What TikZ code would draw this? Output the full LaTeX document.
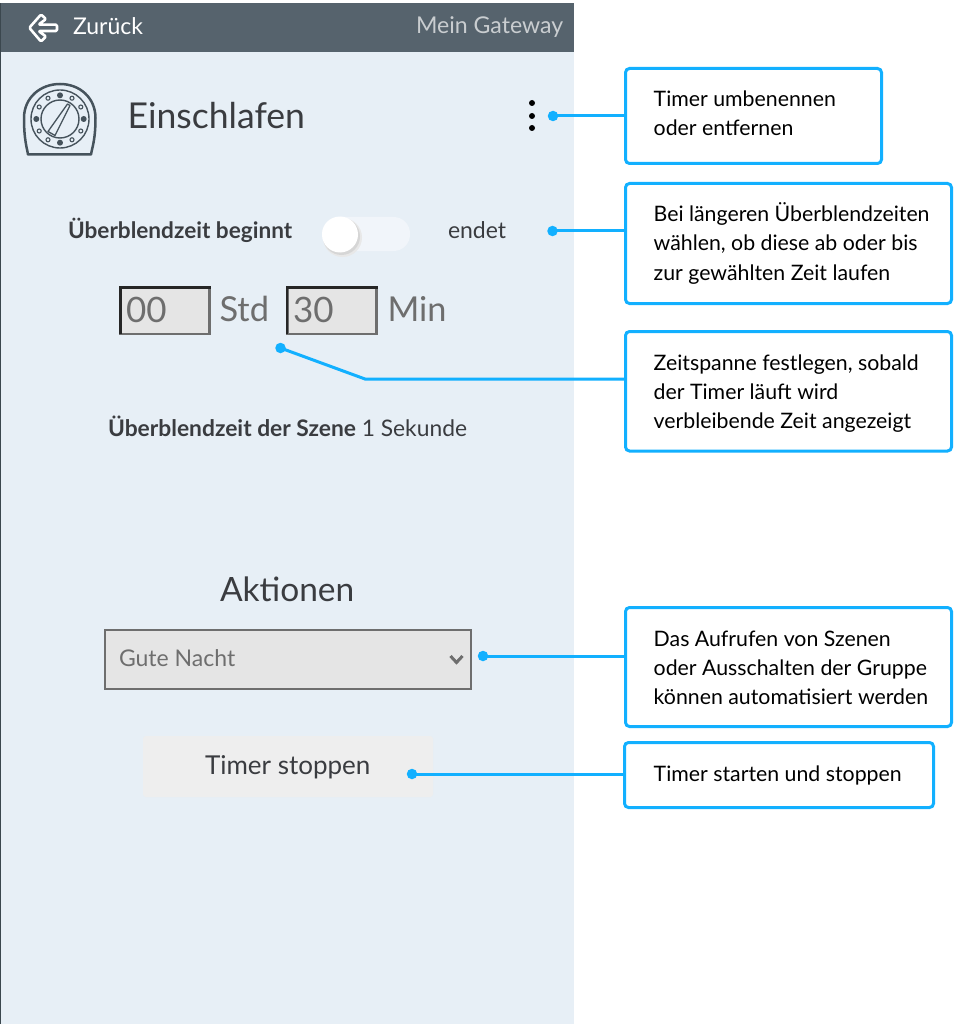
\documentclass[tikz,border=0pt]{standalone}
\usepackage{fontspec}
\usetikzlibrary{calc}
\setmainfont{Lato}
\definecolor{panel}{HTML}{E7EFF6}
\definecolor{head}{HTML}{56636D}
\definecolor{blu}{HTML}{12B0FF}
\definecolor{ink}{HTML}{3A3C40}
\definecolor{iconc}{HTML}{46535C}
\definecolor{gr}{HTML}{6E6E6E}
\definecolor{fieldf}{HTML}{E5E5E5}
\definecolor{btn}{HTML}{EEEEEE}
\tikzset{
 x=1pt,y=-1pt,
 txt/.style={anchor=base west,inner sep=0pt,outer sep=0pt},
 callout/.style={draw=blu,line width=3pt,rounded corners=4pt,fill=white,anchor=north west,inner sep=0pt},
 note/.style={txt,font=\fontsize{21.3}{21.3}\selectfont,text=black},
 wire/.style={draw=blu,line width=3pt},
 tipdot/.style={circle,fill=blu,inner sep=0pt,minimum size=10.5pt},
 field/.style={draw=gr,fill=fieldf,line width=2.5pt,anchor=north west,inner sep=0pt},
 tickdot/.style={circle,fill=iconc,inner sep=0pt},
}
\begin{document}
\begin{tikzpicture}
\useasboundingbox (0,0) rectangle (954,1024);
\fill[white] (0,0) rectangle (954,1024);
\fill[panel] (0,3) rectangle (574,1024);
\fill[head] (0,3) rectangle (574,52);
\fill[iconc!85!black] (0,3) rectangle (1,1024);
% back arrow
\draw[white,line width=2.6pt,line join=round,rounded corners=1.2pt] (29.3,27.8) -- (41,14.5) -- (46,19) -- (38.5,24.7) -- (57,24.7) -- (57,31) -- (38.5,31) -- (46,36.5) -- (41,41.5) -- cycle;
\node[txt,text=white,font=\fontsize{23}{23}\selectfont] (zurueck) at (73,35) {Zurück};
\node[txt,text=white!68!head,font=\fontsize{23.1}{23.1}\selectfont] (gateway) at (416,34) {Mein Gateway};
% timer icon
\draw[iconc,line width=2.5pt,line join=round] (28,154.5) .. controls (27,148) and (24,140) .. (24,118) .. controls (24,98) and (40,84) .. (60,84) .. controls (80,84) and (95.5,98) .. (95.5,118) .. controls (95.5,140) and (92,148) .. (91,154.5) -- cycle;
\draw[iconc,line width=1.4pt] (60,119) circle (29);
\draw[iconc,line width=1.4pt] (60,119) circle (19);
\foreach \a in {0,90,180,270}{\node[tickdot,minimum size=6pt] at ($(60,119)+(\a:23.7)$) {};}
\foreach \a in {30,60,120,150,210,240,300,330}{\draw[iconc,line width=1.1pt] ($(60,119)+(\a:24)$) circle (2);}
\draw[iconc,line width=1.3pt,line join=round] (67.5,104) -- (70,105.5) -- (55,135.5) -- (48,131.5) -- cycle;
\node[txt,text=ink,font=\fontsize{35.6}{35.6}\selectfont] (title) at (127.5,128.5) {Einschlafen};
\foreach \yy in {103,116,128}{\node[circle,fill=black,inner sep=0pt,minimum size=6pt] at (532,\yy) {};}
% switch row
\node[txt,text=ink,font=\fontsize{22.6}{22.6}\selectfont\bfseries] (begin) at (68,238) {Überblendzeit beginnt};
\fill[white!40!panel,rounded corners=16.5pt] (322,217) rectangle (410,251);
\fill[black!9] (342.5,237.5) circle (19.5);
\fill[black!16] (341.5,236.5) circle (18.5);
\fill[white] (340,234.5) circle (18);
\node[txt,text=ink,font=\fontsize{23}{23}\selectfont] (endet) at (448,238) {endet};
% fields
\node[field,minimum width=89pt,minimum height=46.5pt] (h) at (119.3,286) {};
\draw[black!85,line width=2.5pt] (120.5,334) -- (120.5,287.25) -- (211,287.25);
\node[txt,text=gr,font=\fontsize{35}{35}\selectfont] (h0) at (126,322) {00};
\node[txt,text=gr,font=\fontsize{34.4}{34.4}\selectfont] (std) at (219.5,321) {Std};
\node[field,minimum width=89pt,minimum height=46.5pt] (m) at (286,286) {};
\draw[black!85,line width=2.5pt] (287.2,334) -- (287.2,287.25) -- (377.7,287.25);
\node[txt,text=gr,font=\fontsize{35}{35}\selectfont] (m0) at (293,322) {30};
\node[txt,text=gr,font=\fontsize{34.3}{34.3}\selectfont] (minu) at (387.5,321) {Min};
% scene time
\node[txt,text=ink,font=\fontsize{22.8}{22.8}\selectfont] (scene) at (108,436) {\textbf{Überblendzeit der Szene} 1 Sekunde};
% actions
\node[txt,text=ink,font=\fontsize{33.5}{33.5}\selectfont] (akt) at (220,601) {Aktionen};
\node[draw=gr,fill=fieldf,line width=2pt,anchor=north west,inner sep=0pt,minimum width=365.7pt,minimum height=59pt] (sel) at (104,629) {};
\node[txt,text=gr,font=\fontsize{23}{23}\selectfont] (gute) at (119,666) {Gute Nacht};
\draw[gr,line width=3pt] (450.5,656) -- (456.5,662.5) -- (462.5,656);
\fill[btn,rounded corners=3pt] (143,736) rectangle (433,797);
\node[txt,text=ink,font=\fontsize{26}{26}\selectfont] (stop) at (205,774) {Timer stoppen};
% callouts
\node[callout,minimum width=256pt,minimum height=95pt] (c1) at (624,67) {};
\node[callout,minimum width=326pt,minimum height=120pt] (c2) at (624,182) {};
\node[callout,minimum width=326pt,minimum height=119.5pt] (c3) at (624,330) {};
\node[callout,minimum width=326pt,minimum height=119pt] (c4) at (624,606) {};
\node[callout,minimum width=309pt,minimum height=65pt] (c5) at (623,741) {};
\node[note] (t1a) at (653.7,107) {Timer umbenennen};
\node[note] (t1b) at (653.7,136) {oder entfernen};
\node[note] (t2a) at (653.7,222) {Bei längeren Überblendzeiten};
\node[note] (t2b) at (653.7,251) {wählen, ob diese ab oder bis};
\node[note] (t2c) at (653.7,280) {zur gewählten Zeit laufen};
\node[note] (t3a) at (653.7,370) {Zeitspanne festlegen, sobald};
\node[note] (t3b) at (653.7,399) {der Timer läuft wird};
\node[note] (t3c) at (653.7,428) {verbleibende Zeit angezeigt};
\node[note] (t4a) at (653.7,646) {Das Aufrufen von Szenen};
\node[note] (t4b) at (653.7,675) {oder Ausschalten der Gruppe};
\node[note] (t4c) at (653.7,704) {können automatisiert werden};
\node[note] (t5) at (653.7,781) {Timer starten und stoppen};
% connectors
\node[tipdot] (d1) at (553,116) {};
\node[tipdot] (d2) at (552.5,231) {};
\node[tipdot] (d3) at (280.5,348) {};
\node[tipdot] (d4) at (483,656) {};
\node[tipdot] (d5) at (412,774) {};
\coordinate (k3) at (365,379);
\draw[wire] (d1.center) -- (c1.west |- d1.center);
\draw[wire] (d2.center) -- (c2.west |- d2.center);
\draw[wire] (d3.center) -- (k3) -- (c3.west |- k3);
\draw[wire] (d4.center) -- (c4.west |- d4.center);
\draw[wire] (d5.center) -- (c5.west |- d5.center);
\end{tikzpicture}
\end{document}
